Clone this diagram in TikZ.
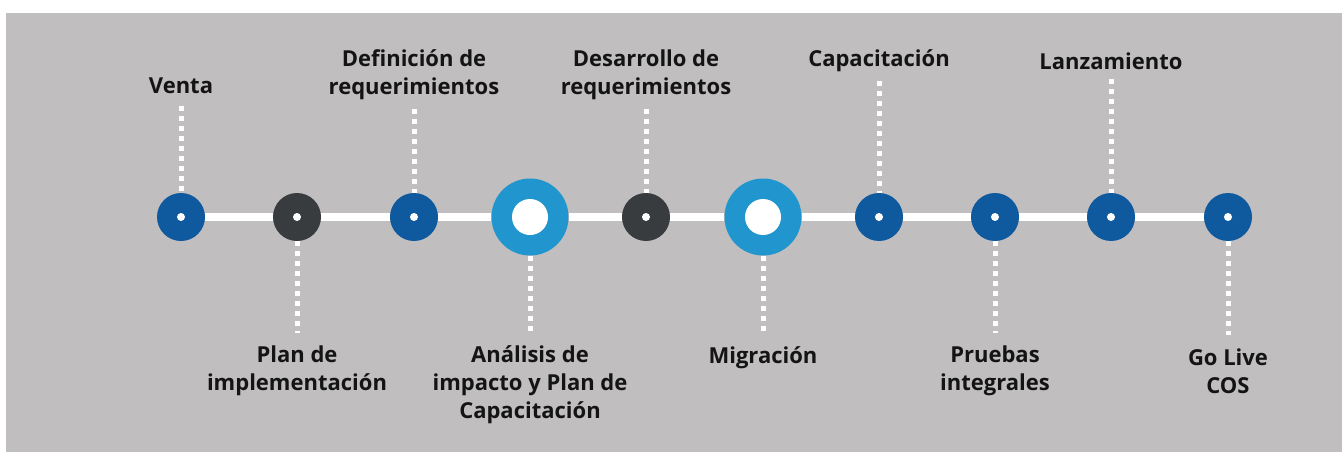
\documentclass[tikz,border=0pt]{standalone}
\usepackage{fontspec}
\setmainfont{Open Sans}
\usepackage{xcolor}
\usetikzlibrary{backgrounds}

\definecolor{panelgray}{HTML}{C0BEBF}
\definecolor{stopblue}{HTML}{0F5A9F}
\definecolor{stopdark}{HTML}{393C3F}
\definecolor{stoplight}{HTML}{2196CE}
\definecolor{labeltext}{HTML}{141414}

\tikzstyle{stop} = [circle, inner sep=0pt, minimum size=48pt,
    path picture={\fill[white] (path picture bounding box.center) circle (4);}]
\tikzstyle{bigstop} = [circle, inner sep=0pt, minimum size=77pt, fill=stoplight,
    path picture={\fill[white] (path picture bounding box.center) circle (18);}]
\tikzstyle{label} = [align=center, inner sep=5pt, text=labeltext,
    font=\fontsize{22}{28}\selectfont\bfseries]
\tikzstyle{track} = [white, line width=8pt]
\tikzstyle{dots} = [white, line width=5pt, dash pattern=on 5pt off 5pt]

\begin{document}
\begin{tikzpicture}[x=1pt, y=-1pt]
    \useasboundingbox (0,0) rectangle (1344,455);

    % stops on the time line
    \node[stop, fill=stopblue] (v1) at (181,217) {};
    \node[stop, fill=stopdark] (v2) at (297,217) {};
    \node[stop, fill=stopblue] (v3) at (414,217) {};
    \node[bigstop] (v4) at (530,217) {};
    \node[stop, fill=stopdark] (v5) at (646,217) {};
    \node[bigstop] (v6) at (763,217) {};
    \node[stop, fill=stopblue] (v7) at (879,217) {};
    \node[stop, fill=stopblue] (v8) at (995,217) {};
    \node[stop, fill=stopblue] (v9) at (1111,217) {};
    \node[stop, fill=stopblue] (v10) at (1228,217) {};

    % labels
    \node[label] (l1) at (181,86) {Venta};
    \node[label] (l2) at (297,371) {Plan de\\implementación};
    \node[label] (l3) at (414,75) {Definición de\\requerimientos};
    \node[label] (l4) at (530,385) {Análisis de\\impacto y Plan de\\Capacitación};
    \node[label] (l5) at (646,75) {Desarrollo de\\requerimientos};
    \node[label] (l6) at (763,358) {Migración};
    \node[label] (l7) at (879,61) {Capacitación};
    \node[label] (l8) at (995,371) {Pruebas\\integrales};
    \node[label] (l9) at (1111,61) {Lanzamiento};
    \node[label] (l10) at (1228,371) {Go Live\\COS};

    \begin{scope}[on background layer]
        \fill[panelgray] (6,13) rectangle (1342,452);
        \draw[track] (v1) -- (v2);
        \draw[track] (v2) -- (v3);
        \draw[track] (v3) -- (v4);
        \draw[track] (v4) -- (v5);
        \draw[track] (v5) -- (v6);
        \draw[track] (v6) -- (v7);
        \draw[track] (v7) -- (v8);
        \draw[track] (v8) -- (v9);
        \draw[track] (v9) -- (v10);
    \end{scope}

    \draw[dots, shorten <=7pt] (l1) -- (v1);
    \draw[dots, shorten >=8pt] (v2) -- (l2);
    \draw[dots, shorten <=4pt] (l3) -- (v3);
    \draw[dots, shorten >=8pt] (v4) -- (l4);
    \draw[dots, shorten <=4pt] (l5) -- (v5);
    \draw[dots, shorten >=8pt] (v6) -- (l6);
    \draw[dots, shorten <=4pt] (l7) -- (v7);
    \draw[dots, shorten >=8pt] (v8) -- (l8);
    \draw[dots, shorten <=4pt] (l9) -- (v9);
    \draw[dots, shorten >=8pt] (v10) -- (l10);
\end{tikzpicture}
\end{document}
